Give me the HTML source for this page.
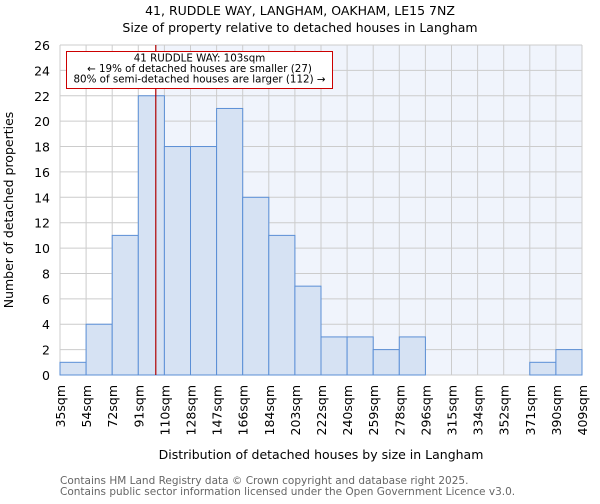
<!DOCTYPE html>
<html><head><meta charset="utf-8"><style>
body{margin:0;background:#fff;font-family:"DejaVu Sans","Liberation Sans",sans-serif;}
svg text{font-family:"DejaVu Sans","Liberation Sans",sans-serif;}
</style></head><body>
<svg id="chart" width="600" height="500" xmlns="http://www.w3.org/2000/svg">
<text x="300" y="15" text-anchor="middle" font-size="12.5">41, RUDDLE WAY, LANGHAM, OAKHAM, LE15 7NZ</text>
<text x="300" y="32" text-anchor="middle" font-size="12.5">Size of property relative to detached houses in Langham</text>
<g id="plot"></g>
<text x="321" y="459" text-anchor="middle" font-size="12.5">Distribution of detached houses by size in Langham</text>
<text transform="translate(13,210) rotate(-90)" text-anchor="middle" font-size="12.5">Number of detached properties</text>
<text x="60" y="484" font-size="10.5" fill="#666">Contains HM Land Registry data © Crown copyright and database right 2025.</text>
<text x="60" y="495" font-size="10.5" fill="#666">Contains public sector information licensed under the Open Government Licence v3.0.</text>
</svg>
<script>
const binLabels=["35sqm","54sqm","72sqm","91sqm","110sqm","128sqm","147sqm","166sqm","184sqm","203sqm","222sqm","240sqm","259sqm","278sqm","296sqm","315sqm","334sqm","352sqm","371sqm","390sqm","409sqm"];
const binEdges=[35,54,72,91,110,128,147,166,184,203,222,240,259,278,296,315,334,352,371,390,409];
const counts=[1,4,11,22,18,18,21,14,11,7,3,3,2,3,0,0,0,0,1,2];
const yTicks=[0,2,4,6,8,10,12,14,16,18,20,22,24,26];
const propertySize=103;
const annotationLines=["41 RUDDLE WAY: 103sqm","← 19% of detached houses are smaller (27)","80% of semi-detached houses are larger (112) →"];

const NS="http://www.w3.org/2000/svg";
const L=60,R=582,T=45,B=375,yMax=26;
const bw=(R-L)/counts.length;
const xi=i=>L+i*bw;
const y=v=>B-(v/yMax)*(B-T);
function xv(v){for(let i=0;i<binEdges.length-1;i++){if(v<=binEdges[i+1])return xi(i+(v-binEdges[i])/(binEdges[i+1]-binEdges[i]));}return R;}
const g=document.getElementById('plot');
function mk(t,a,p){const e=document.createElementNS(NS,t);for(const k in a)e.setAttribute(k,a[k]);(p||g).appendChild(e);return e;}
const mx=xv(propertySize)+1;
let e;
e=mk('rect',{x:mx,y:T,width:R-mx,height:B-T,fill:'#f0f4fc'});


yTicks.forEach(t=>{
 e=mk('line',{x1:L,x2:R,y1:y(t),y2:y(t),stroke:'#ccc','stroke-width':1});
 
 
 e=mk('text',{x:L-10,y:y(t)+5,'text-anchor':'end','font-size':12.5});
 
 
 e.textContent=t;
});
binLabels.forEach((lb,i)=>{
 e=mk('line',{x1:xi(i),x2:xi(i),y1:T,y2:B,stroke:'#ccc','stroke-width':1});
 
 
 e=mk('text',{transform:`translate(${xi(i)+5},${B+10}) rotate(-90)`,'text-anchor':'end','font-size':12.5});
 
 
 e.textContent=lb;
});
counts.forEach((c,i)=>{
 if(c<=0)return;
 e=mk('rect',{x:xi(i),y:y(c),width:bw,height:B-y(c),fill:'#d6e2f3',stroke:'#5b8fd6','stroke-width':1});
 
 
});
e=mk('line',{x1:mx,x2:mx,y1:T,y2:B,stroke:'#b00000','stroke-width':1.2});


e=mk('rect',{x:66.5,y:51.5,width:266,height:37,fill:'#fff',stroke:'#c00','stroke-width':1});


annotationLines.forEach((s,i)=>{
 e=mk('text',{x:199.5,y:61.5+i*10.5,'text-anchor':'middle','font-size':10.3});
 
 
 e.textContent=s;
});
</script>
</body></html>
